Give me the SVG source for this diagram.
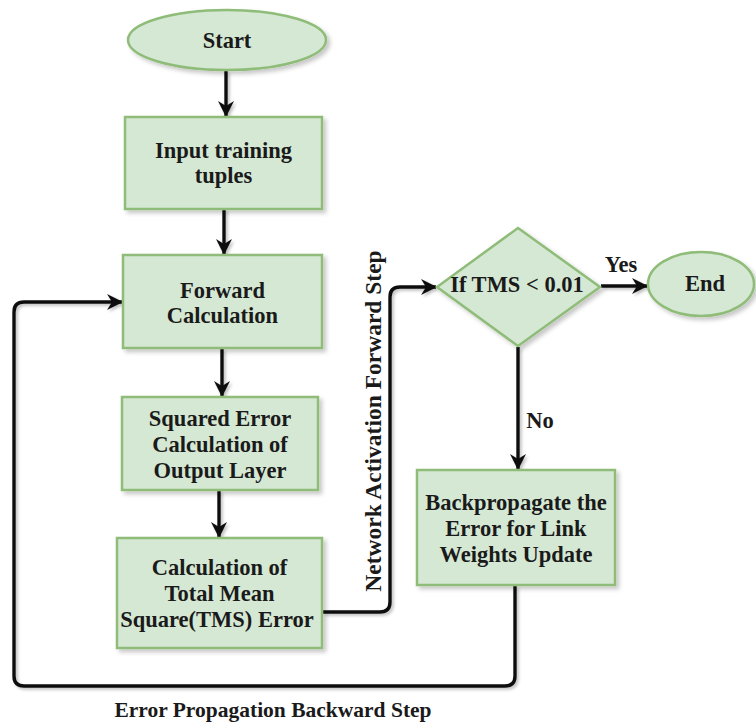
<svg xmlns="http://www.w3.org/2000/svg" width="756" height="723" viewBox="0 0 756 723">
<style>
.node{fill:#d5e8d4;stroke:#8fbc78;stroke-width:2.5;filter:url(#sh)}
.t{font-family:"Liberation Serif","Times New Roman",serif;font-weight:bold;font-size:22.5px;fill:#1a1a1a;text-anchor:middle}
.c{fill:none;stroke:#111;stroke-width:3.4;stroke-linejoin:round}
</style>
<defs>
<filter id="sh" x="-10%" y="-10%" width="130%" height="130%"><feDropShadow dx="3" dy="3" stdDeviation="2" flood-color="#000" flood-opacity="0.22"/></filter>
<filter id="sh2" filterUnits="userSpaceOnUse" x="0" y="0" width="756" height="723"><feDropShadow dx="2" dy="2" stdDeviation="1.5" flood-color="#000" flood-opacity="0.25"/></filter>
<marker id="ah" viewBox="0 0 16 16" refX="15" refY="8" markerWidth="16" markerHeight="16" markerUnits="userSpaceOnUse" orient="auto">
<path d="M0,0 L16,8 L0,16 L5,8 Z" fill="#111"/>
</marker>
</defs>
<rect width="756" height="723" fill="#fff"/>
<g id="connectors">
<g filter="url(#sh2)">
<path class="c" d="M226,71 V116" marker-end="url(#ah)"/>
<path class="c" d="M224,209 V254" marker-end="url(#ah)"/>
<path class="c" d="M222,349 V396" marker-end="url(#ah)"/>
<path class="c" d="M219,491 V537" marker-end="url(#ah)"/>
<path class="c" d="M323,612 H380 Q390,612 390,602 V297 Q390,287 400,287 H436" marker-end="url(#ah)"/>
<path class="c" d="M601,286 H647" marker-end="url(#ah)"/>
<path class="c" d="M518,347 V469" marker-end="url(#ah)"/>
<path class="c" d="M515,586 V676 Q515,686 505,686 H24 Q14,686 14,676 V312 Q14,302 24,302 H122" marker-end="url(#ah)"/>
</g>
<text class="t" x="621" y="272">Yes</text>
<text class="t" x="540" y="428">No</text>
<text class="t" x="0" y="0" transform="translate(381,421) rotate(-90)" style="font-size:23.5px">Network Activation Forward Step</text>
<text class="t" x="273" y="717" style="font-size:21.5px">Error Propagation Backward Step</text>
</g>
<g id="start"><ellipse class="node" cx="227" cy="40" rx="99" ry="30"/><text class="t" x="227" y="48">Start</text></g>
<g id="input"><rect class="node" x="125" y="117" width="197" height="92"/><text class="t" x="223.5" y="158">Input training</text><text class="t" x="223.5" y="183">tuples</text></g>
<g id="forward"><rect class="node" x="123" y="255" width="199" height="93"/><text class="t" x="222.5" y="298">Forward</text><text class="t" x="222.5" y="323">Calculation</text></g>
<g id="squared"><rect class="node" x="122" y="397" width="196" height="93"/><text class="t" x="220" y="425.5">Squared Error</text><text class="t" x="220" y="451.5">Calculation of</text><text class="t" x="220" y="477.5">Output Layer</text></g>
<g id="tms"><rect class="node" x="117" y="538" width="205" height="110"/><text class="t" x="219.5" y="575">Calculation of</text><text class="t" x="219.5" y="601">Total Mean</text><text class="t" x="217" y="627">Square(TMS) Error</text></g>
<g id="decision"><polygon class="node" points="437,287 518,228 600,287 518,346"/><text class="t" x="517" y="292">If TMS &lt; 0.01</text></g>
<g id="end"><ellipse class="node" cx="701" cy="284" rx="53" ry="32"/><text class="t" x="705" y="291">End</text></g>
<g id="backprop"><rect class="node" x="417" y="470" width="198" height="115"/><text class="t" x="516" y="509.5">Backpropagate the</text><text class="t" x="516" y="535.5">Error for Link</text><text class="t" x="516" y="561.5">Weights Update</text></g>
</svg>
